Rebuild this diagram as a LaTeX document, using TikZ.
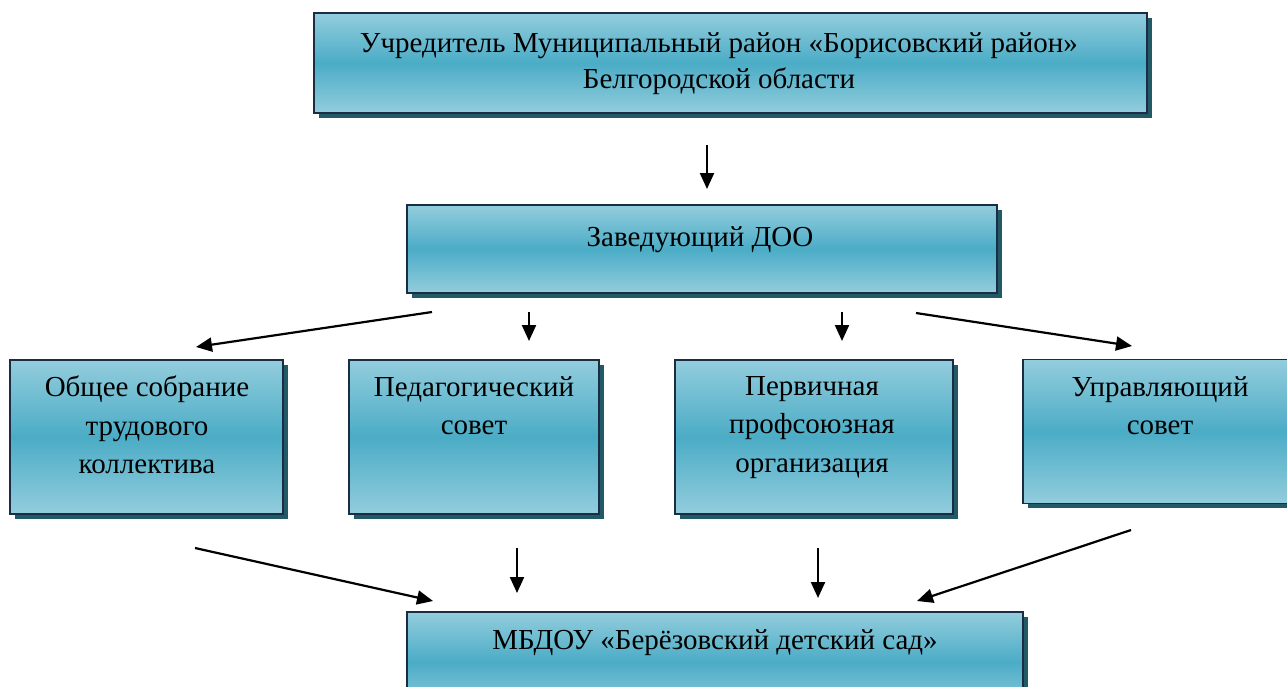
\documentclass[tikz,border=0pt]{standalone}
\usepackage{fontspec}
\setmainfont{Liberation Serif}
\usetikzlibrary{shadows,arrows.meta}
\definecolor{lightb}{HTML}{93CDDD}
\definecolor{midb}{HTML}{4BACC6}
\definecolor{edgeb}{HTML}{1B2D45}
\definecolor{shadowb}{HTML}{215967}
\tikzset{
  box/.style={draw=edgeb, line width=1.8pt, top color=lightb, bottom color=lightb, middle color=midb,
    drop shadow={shadow xshift=4.5pt, shadow yshift=-4.5pt, fill=shadowb, opacity=1}, inner sep=0pt},
  lab/.style={anchor=north, align=center, inner sep=0pt, font=\fontsize{29}{38.5}\selectfont, text=black},
  arr/.style={-{Triangle[length=16pt,width=14pt]}, line width=2.2pt, black}
}
\begin{document}
\begin{tikzpicture}[x=1pt,y=-1pt]
\useasboundingbox (0,0) rectangle (1287,686);
\clip (0,0) rectangle (1287,686);
% boxes
\node[box, minimum width=833pt, minimum height=100pt] (top) at (730.5,63) {};
\node[box, minimum width=590pt, minimum height=88pt] (zav) at (702,249) {};
\node[box, minimum width=273pt, minimum height=154pt] (b1) at (146.5,437) {};
\node[box, minimum width=250pt, minimum height=154pt] (b2) at (474,437) {};
\node[box, minimum width=278pt, minimum height=154pt] (b3) at (814,437) {};
\node[box, minimum width=275pt, minimum height=144pt] (b4) at (1160.5,431.5) {};
\node[box, minimum width=616pt, minimum height=100pt] (bot) at (715,662) {};
% texts
\node[lab, font=\fontsize{29}{36}\selectfont] (ttop) at (719,32) {Учредитель Муниципальный район «Борисовский район»\\Белгородской области};
\node[lab] (tzav) at (700,226) {Заведующий ДОО};
\node[lab] (t1) at (147,376) {Общее собрание\\трудового\\коллектива};
\node[lab] (t2) at (474,376) {Педагогический\\совет};
\node[lab] (t3) at (812,376) {Первичная\\профсоюзная\\организация};
\node[lab] (t4) at (1160,376) {Управляющий\\совет};
\node[lab] (tbot) at (715,629) {МБДОУ «Берёзовский детский сад»};
% connector ends
\coordinate (a0s) at (707,145); \coordinate (a0e) at (707,189);
\coordinate (a1s) at (432,312); \coordinate (a1e) at (196,347);
\coordinate (a2s) at (529,312); \coordinate (a2e) at (529,341);
\coordinate (a3s) at (842,312); \coordinate (a3e) at (842,341);
\coordinate (a4s) at (916,313); \coordinate (a4e) at (1132,346);
\coordinate (c1s) at (195,548); \coordinate (c1e) at (433,601);
\coordinate (c2s) at (517,548); \coordinate (c2e) at (517,593);
\coordinate (c3s) at (818,548); \coordinate (c3e) at (818,598);
\coordinate (c4s) at (1131,530); \coordinate (c4e) at (917,601);
\foreach \n in {a0,a1,a2,a3,a4,c1,c2,c3,c4} \draw[arr] (\n s) -- (\n e);
\end{tikzpicture}
\end{document}
